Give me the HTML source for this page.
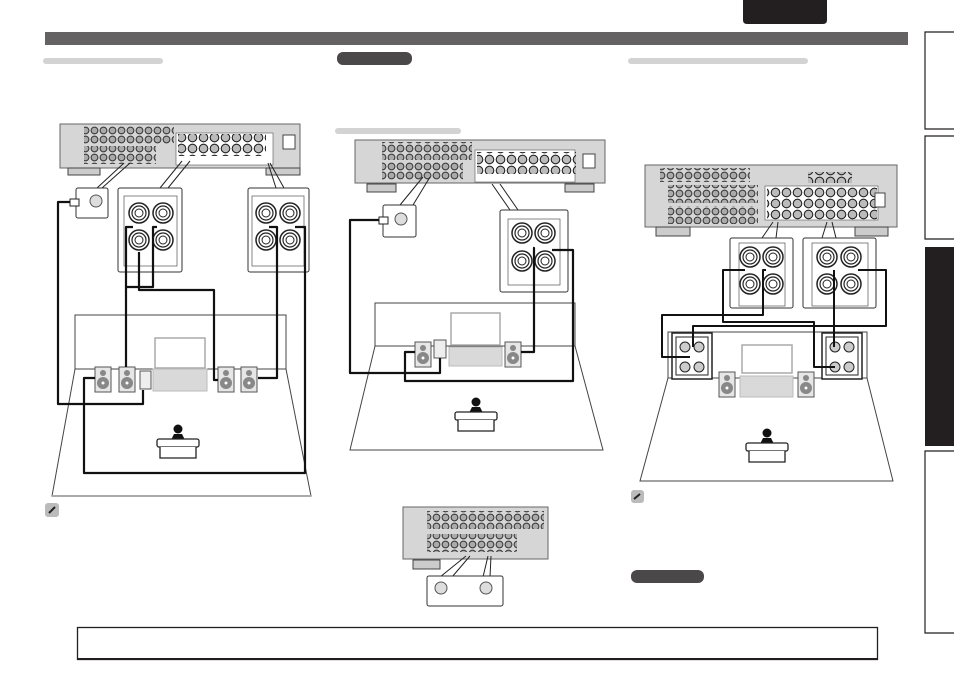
<!DOCTYPE html>
<html><head><meta charset="utf-8"><style>
html,body{margin:0;padding:0;background:#fff;}
body{width:954px;height:674px;overflow:hidden;position:relative;font-family:"Liberation Sans",sans-serif;}
svg{position:absolute;left:0;top:0;}
</style></head><body>
<svg width="954" height="674" viewBox="0 0 954 674" xmlns="http://www.w3.org/2000/svg">
<defs>
<pattern id="jk" x="0" y="0" width="9" height="9" patternUnits="userSpaceOnUse">
<circle cx="4.5" cy="4.5" r="3.4" fill="#aaa" stroke="#333" stroke-width="1"/>
</pattern>
<pattern id="jk2" x="0" y="0" width="11" height="11" patternUnits="userSpaceOnUse">
<circle cx="5.5" cy="5.5" r="4.3" fill="#bbb" stroke="#222" stroke-width="1.1"/>
</pattern>
<g id="spk">
<rect x="0" y="0" width="16" height="25" fill="#e6e6e6" stroke="#555" stroke-width="1"/>
<circle cx="8" cy="6" r="3" fill="#888"/>
<circle cx="8" cy="16" r="6" fill="#888"/>
<circle cx="8" cy="16" r="1.5" fill="#fff"/>
</g>
<g id="term">
<circle cx="0" cy="0" r="10" fill="#fff" stroke="#222" stroke-width="1.5"/>
<circle cx="0" cy="0" r="7" fill="#fff" stroke="#222" stroke-width="1.2"/>
<circle cx="0" cy="0" r="4" fill="#fff" stroke="#222" stroke-width="1"/>
</g>
<g id="person">
<circle cx="0" cy="-5" r="4.5" fill="#111"/>
<path d="M-7,6 L-4,0 L4,0 L7,6 Z" fill="#111"/>
<rect x="-21" y="5" width="42" height="8" rx="2" fill="#fff" stroke="#222" stroke-width="1.3"/>
<path d="M-18,13 L-18,24 L18,24 L18,13" fill="#fff" stroke="#222" stroke-width="1.3"/>
</g>
</defs>

<path d="M743,0 H827 V20 Q827,24 823,24 H747 Q743,24 743,20 Z" fill="#231f20"/>
<rect x="45" y="32" width="863" height="13" fill="#646262"/>
<path d="M954,32 H925 V129 H954" fill="none" stroke="#231f20" stroke-width="1.2"/>
<path d="M954,136 H925 V239 H954" fill="none" stroke="#231f20" stroke-width="1.2"/>
<rect x="925" y="247" width="29" height="199" fill="#231f20"/>
<path d="M954,451 H925 V633 H954" fill="none" stroke="#231f20" stroke-width="1.2"/>

<rect x="43" y="58" width="120" height="6" rx="3" fill="#d3d3d3"/>
<rect x="337" y="52" width="75" height="13" rx="6" fill="#4a4848"/>
<rect x="628" y="58" width="180" height="6" rx="3" fill="#d3d3d3"/>
<rect x="335" y="128" width="126" height="6" rx="3" fill="#d3d3d3"/>

<!-- ===== Diagram 1 ===== -->
<rect x="60" y="124" width="240" height="44" fill="#d6d6d6" stroke="#666"/>
<rect x="84" y="126" width="90" height="18" fill="url(#jk)"/>
<rect x="84" y="146" width="72" height="18" fill="url(#jk)"/>
<rect x="176" y="133" width="97" height="32" fill="#fff" stroke="#555" stroke-width=".6"/>
<rect x="178" y="134" width="88" height="22" fill="url(#jk2)"/>
<rect x="283" y="135" width="12" height="14" fill="#fff" stroke="#444"/>
<rect x="68" y="168" width="32" height="7" fill="#ccc" stroke="#444"/>
<rect x="266" y="168" width="34" height="7" fill="#ccc" stroke="#444"/>
<path d="M124,163 L97,188 M130,163 L102,188" stroke="#222" fill="none"/>
<path d="M182,161 L160,188 M190,161 L168,188" stroke="#222" fill="none"/>
<path d="M268,163 L276,188 M270,163 L284,188" stroke="#222" fill="none"/>
<rect x="76" y="188" width="32" height="30" rx="2" fill="#fff" stroke="#333"/>
<circle cx="96" cy="201" r="6" fill="#ddd" stroke="#555"/>
<rect x="70" y="199" width="9" height="7" fill="#fff" stroke="#222"/>
<rect x="118" y="188" width="64" height="84" rx="2" fill="#fff" stroke="#333"/>
<rect x="124" y="196" width="53" height="70" fill="#fff" stroke="#555" stroke-width=".7"/>
<use href="#term" x="139" y="213"/><use href="#term" x="163" y="213"/>
<use href="#term" x="139" y="240"/><use href="#term" x="163" y="240"/>
<rect x="248" y="188" width="61" height="84" rx="2" fill="#fff" stroke="#333"/>
<rect x="252" y="196" width="52" height="70" fill="#fff" stroke="#555" stroke-width=".7"/>
<use href="#term" x="266" y="213"/><use href="#term" x="290" y="213"/>
<use href="#term" x="266" y="240"/><use href="#term" x="290" y="240"/>
<rect x="75" y="315" width="211" height="54" fill="#fff" stroke="#444"/>
<path d="M75,369 L52,496 L311,496 L286,369" fill="none" stroke="#444"/>
<line x1="52" y1="496" x2="311" y2="496" stroke="#aaa" stroke-width="2"/>
<rect x="155" y="338" width="50" height="30" fill="#fff" stroke="#aaa" stroke-width="1.5"/>
<rect x="153" y="369" width="54" height="22" fill="#d9d9d9" stroke="#bbb"/>
<use href="#spk" x="95" y="367"/><use href="#spk" x="119" y="367"/>
<rect x="140" y="371" width="11" height="18" fill="#eee" stroke="#555"/>
<use href="#spk" x="218" y="367"/><use href="#spk" x="241" y="367"/>
<use href="#person" x="178" y="434"/>
<g fill="none" stroke="#111" stroke-width="2.2" stroke-linejoin="round">
<path d="M70,202 H58 V404 H143 V390"/>
<path d="M133,227 H126 V367"/>
<path d="M157,227 H153 V287 H125"/>
<path d="M139,252 V290 H214 V380 H218"/>
<path d="M269,227 H277 V378 H258"/>
<path d="M295,227 H305 V473 H84 V378 H95"/>
</g>
<rect x="45" y="503" width="14" height="14" rx="3" fill="#bbb"/>
<path d="M49,513 L55,507" stroke="#222" stroke-width="2"/>

<!-- ===== Diagram 2 ===== -->
<rect x="355" y="140" width="250" height="43" fill="#d6d6d6" stroke="#666"/>
<rect x="382" y="142" width="90" height="18" fill="url(#jk)"/>
<rect x="382" y="162" width="81" height="18" fill="url(#jk)"/>
<rect x="475" y="150" width="100" height="32" fill="#fff" stroke="#555" stroke-width=".6"/>
<rect x="477" y="152" width="99" height="22" fill="url(#jk2)"/>
<rect x="583" y="154" width="12" height="14" fill="#fff" stroke="#444"/>
<rect x="367" y="184" width="29" height="8" fill="#ccc" stroke="#444"/>
<rect x="565" y="184" width="29" height="8" fill="#ccc" stroke="#444"/>
<path d="M423,177 L400,205 M430,177 L413,205" stroke="#222" fill="none"/>
<path d="M492,184 L510,210 M500,184 L518,210" stroke="#222" fill="none"/>
<rect x="383" y="205" width="33" height="32" rx="2" fill="#fff" stroke="#333"/>
<circle cx="401" cy="219" r="6" fill="#ddd" stroke="#555"/>
<rect x="379" y="217" width="9" height="7" fill="#fff" stroke="#222"/>
<rect x="500" y="210" width="68" height="82" rx="2" fill="#fff" stroke="#333"/>
<rect x="508" y="219" width="52" height="66" fill="#fff" stroke="#555" stroke-width=".7"/>
<use href="#term" x="522" y="233"/><use href="#term" x="545" y="233"/>
<use href="#term" x="522" y="261"/><use href="#term" x="545" y="261"/>
<rect x="375" y="303" width="200" height="43" fill="#fff" stroke="#444"/>
<path d="M375,346 L350,450 L603,450 L575,346" fill="none" stroke="#444"/>
<rect x="451" y="313" width="49" height="32" fill="#fff" stroke="#aaa" stroke-width="1.5"/>
<rect x="449" y="347" width="53" height="19" fill="#d9d9d9" stroke="#bbb"/>
<use href="#spk" x="415" y="342"/>
<rect x="434" y="340" width="12" height="18" fill="#eee" stroke="#555"/>
<use href="#spk" x="505" y="342"/>
<use href="#person" x="476" y="407"/>
<g fill="none" stroke="#111" stroke-width="2.2" stroke-linejoin="round">
<path d="M379,220 H350 V373 H440 V358"/>
<path d="M533,248 H534 V352 H521"/>
<path d="M552,250 H573 V381 H405 V352 H415"/>
</g>

<!-- bottom receiver -->
<rect x="403" y="507" width="145" height="52" fill="#d6d6d6" stroke="#666"/>
<rect x="427" y="511" width="117" height="18" fill="url(#jk)"/>
<rect x="427" y="534" width="90" height="18" fill="url(#jk)"/>
<rect x="413" y="560" width="27" height="9" fill="#ccc" stroke="#444"/>
<path d="M466,556 L440,577 M470,556 L452,577 M488,556 L483,577 M491,556 L490,577" stroke="#222" fill="none"/>
<rect x="427" y="576" width="76" height="30" rx="2" fill="#fff" stroke="#333"/>
<circle cx="441" cy="588" r="6" fill="#ddd" stroke="#555"/>
<circle cx="486" cy="588" r="6" fill="#ddd" stroke="#555"/>

<!-- ===== Diagram 3 ===== -->
<rect x="645" y="165" width="252" height="62" fill="#d6d6d6" stroke="#666"/>
<rect x="660" y="168" width="90" height="14" fill="url(#jk)"/>
<rect x="668" y="185" width="90" height="18" fill="url(#jk)"/>
<rect x="668" y="206" width="90" height="18" fill="url(#jk)"/>
<rect x="765" y="186" width="113" height="34" fill="#fff" stroke="#555" stroke-width=".6"/>
<rect x="767" y="187" width="110" height="33" fill="url(#jk2)"/>
<rect x="808" y="172" width="44" height="11" fill="url(#jk2)"/>
<rect x="875" y="193" width="10" height="14" fill="#fff" stroke="#444"/>
<rect x="656" y="227" width="34" height="9" fill="#ccc" stroke="#444"/>
<rect x="855" y="227" width="33" height="9" fill="#ccc" stroke="#444"/>
<path d="M773,222 L762,238 M778,222 L776,238 M827,222 L822,238 M832,222 L836,238" stroke="#222" fill="none"/>
<rect x="730" y="238" width="63" height="70" rx="2" fill="#fff" stroke="#333"/>
<rect x="739" y="243" width="46" height="63" fill="#fff" stroke="#555" stroke-width=".7"/>
<use href="#term" x="750" y="257"/><use href="#term" x="773" y="257"/>
<use href="#term" x="750" y="284"/><use href="#term" x="773" y="284"/>
<rect x="803" y="238" width="73" height="70" rx="2" fill="#fff" stroke="#333"/>
<rect x="812" y="243" width="56" height="63" fill="#fff" stroke="#555" stroke-width=".7"/>
<use href="#term" x="827" y="257"/><use href="#term" x="851" y="257"/>
<use href="#term" x="827" y="284"/><use href="#term" x="851" y="284"/>
<rect x="668" y="332" width="199" height="46" fill="#fff" stroke="#444"/>
<path d="M668,378 L640,481 L893,481 L867,378" fill="none" stroke="#444"/>
<rect x="742" y="345" width="50" height="28" fill="#fff" stroke="#aaa" stroke-width="1.5"/>
<rect x="740" y="376" width="53" height="21" fill="#d9d9d9" stroke="#bbb"/>
<use href="#spk" x="719" y="372"/><use href="#spk" x="798" y="372"/>
<rect x="672" y="333" width="40" height="46" fill="#fff" stroke="#222" stroke-width="1.5"/>
<rect x="676" y="337" width="32" height="38" fill="#fff" stroke="#222"/>
<circle cx="685" cy="347" r="5" fill="#ccc" stroke="#222"/><circle cx="699" cy="347" r="5" fill="#ccc" stroke="#222"/>
<circle cx="685" cy="367" r="5" fill="#ccc" stroke="#222"/><circle cx="699" cy="367" r="5" fill="#ccc" stroke="#222"/>
<rect x="822" y="333" width="40" height="46" fill="#fff" stroke="#222" stroke-width="1.5"/>
<rect x="826" y="337" width="32" height="38" fill="#fff" stroke="#222"/>
<circle cx="835" cy="347" r="5" fill="#ccc" stroke="#222"/><circle cx="849" cy="347" r="5" fill="#ccc" stroke="#222"/>
<circle cx="835" cy="367" r="5" fill="#ccc" stroke="#222"/><circle cx="849" cy="367" r="5" fill="#ccc" stroke="#222"/>
<use href="#person" x="767" y="438"/>
<g fill="none" stroke="#111" stroke-width="2" stroke-linejoin="round">
<path d="M745,270 H723 V322 H814 V367 H835"/>
<path d="M766,270 H763 V315 H662 V357 H690"/>
<path d="M858,270 H886 V326 H693 V347"/>
<path d="M834,270 V347"/>
</g>
<rect x="631" y="490" width="13" height="13" rx="3" fill="#bbb"/>
<path d="M634,499 L640,494" stroke="#222" stroke-width="2"/>
<rect x="631" y="570" width="73" height="13" rx="6" fill="#4a4848"/>

<rect x="77.5" y="627.5" width="800" height="32" fill="#fff" stroke="#231f20" stroke-width="1.3"/>
<line x1="77" y1="659" x2="878" y2="659" stroke="#231f20" stroke-width="2"/>
</svg>
</body></html>
